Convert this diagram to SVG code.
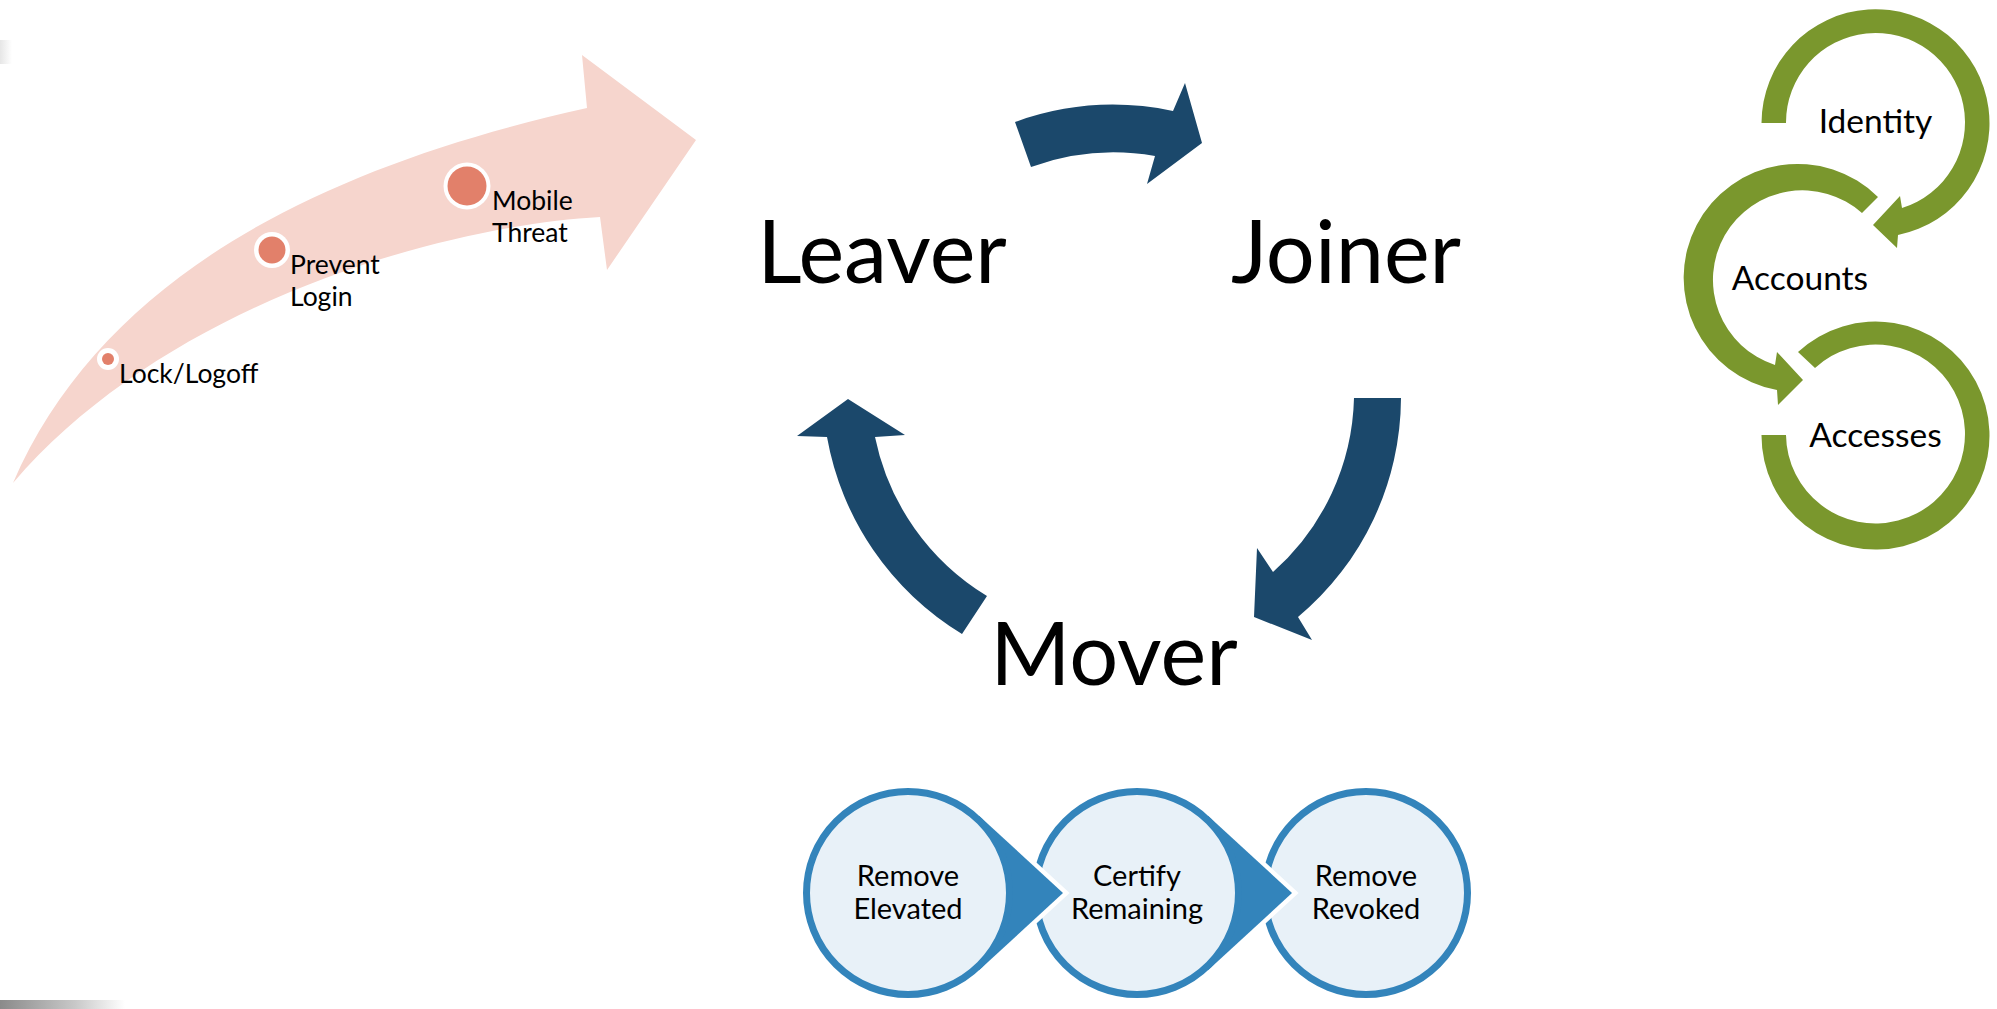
<svg xmlns="http://www.w3.org/2000/svg" width="1997" height="1009" viewBox="0 0 1997 1009">
  <defs>
    <style>
      .t { font-family: Lato, "Open Sans", "Liberation Sans", sans-serif; fill: #000; }
      .title { font-size: 86.5px; text-anchor: middle; }
      .pk { font-size: 26.5px; }
      .gr { font-size: 33.5px; text-anchor: middle; }
      .bc { font-size: 29px; text-anchor: middle; }
      .cyc { fill: #1B486B; }
      .ring { fill: #7A972D; }
      .dotw { fill: #FFFFFF; }
      .dot { fill: #E2806A; }
      .circ { fill: #E8F1F8; stroke: #3384BB; stroke-width: 7; }
      .tri { fill: #3384BB; stroke: #FFFFFF; stroke-width: 9; paint-order: stroke; stroke-linejoin: miter; }
    </style>
    <linearGradient id="shade" x1="0" y1="0" x2="1" y2="0">
      <stop offset="0" stop-color="#8A8A8A"/>
      <stop offset="0.6" stop-color="#C8C8C8"/>
      <stop offset="1" stop-color="#FFFFFF"/>
    </linearGradient>
    <linearGradient id="shadeTop" x1="0" y1="0" x2="1" y2="0">
      <stop offset="0" stop-color="#E6E6E6"/>
      <stop offset="1" stop-color="#FFFFFF"/>
    </linearGradient>
  </defs>
  <rect width="1997" height="1009" fill="#FFFFFF"/>
  <rect x="0" y="1000" width="125" height="9" fill="url(#shade)"/>
  <rect x="0" y="40" width="12" height="24" fill="url(#shadeTop)"/>

  <!-- pink escalation arrow -->
  <g id="escalation">
    <path d="M13,483 C103,275 325,166 587,108 L582,55 L696,140 L607,270 L600,217 C450,225 170,300 13,483 Z" fill="#F6D5CD"/>
    <g id="node-lock">
      <circle class="dotw" cx="108" cy="359" r="11"/>
      <circle class="dot" cx="108" cy="359" r="6"/>
      <text class="t pk" x="119" y="383">Lock/Logoff</text>
    </g>
    <g id="node-prevent">
      <circle class="dotw" cx="272" cy="250" r="18"/>
      <circle class="dot" cx="272" cy="250" r="13.5"/>
      <text class="t pk" x="290" y="274">Prevent</text>
      <text class="t pk" x="290" y="306">Login</text>
    </g>
    <g id="node-mobile">
      <circle class="dotw" cx="467" cy="186" r="23.5"/>
      <circle class="dot" cx="467" cy="186" r="19.5"/>
      <text class="t pk" x="492" y="210">Mobile</text>
      <text class="t pk" x="492" y="242">Threat</text>
    </g>
  </g>

  <!-- lifecycle -->
  <g id="cycle-connectors">
    <path class="cyc" d="M1015,122 A290,290 0 0 1 1173,111 L1185,83 L1202,143 L1147,184 L1155,156 A243,243 0 0 0 1031,167 Z"/>
    <path class="cyc" d="M1401,398 A287,287 0 0 1 1298,617 L1312,640 L1254,617 L1257,548 L1273,572 A240,240 0 0 0 1354,398 Z"/>
    <path class="cyc" d="M962,634 A290,290 0 0 1 827,437 L797,436 L848,399 L905,435 L875,437 A243,243 0 0 0 987,596 Z"/>
  </g>
  <g id="node-leaver"><text class="t title" x="882" y="283">Leaver</text></g>
  <g id="node-joiner"><text class="t title" x="1346" y="283">Joiner</text></g>
  <g id="node-mover"><text class="t title" x="1114" y="685">Mover</text></g>

  <!-- identity / accounts / accesses -->
  <g id="ring-connectors">
    <path class="ring" d="M1761.5,123 A114,114 0 1 1 1898,235 L1897,248 L1873,225 L1900,196 L1902,208 A89.5,89.5 0 1 0 1786,123 Z"/>
    <path class="ring" d="M1878,197 A114,114 0 1 0 1777,390 L1778,405 L1803,380 L1777,352 L1775,365 A89.5,89.5 0 1 1 1862,213 Z"/>
    <path class="ring" d="M1798,352 A114,114 0 1 1 1761.5,435 L1786,435 A89.5,89.5 0 1 0 1815,368 Z"/>
  </g>
  <g id="node-identity"><text class="t gr" x="1875.5" y="133">Identity</text></g>
  <g id="node-accounts"><text class="t gr" x="1800" y="290">Accounts</text></g>
  <g id="node-accesses"><text class="t gr" x="1875.5" y="447">Accesses</text></g>

  <!-- mover process -->
  <g id="node-remove-revoked">
    <circle class="circ" cx="1366" cy="893" r="101.5"/>
    <text class="t bc" x="1366" y="886">Remove</text>
    <text class="t bc" x="1366" y="919">Revoked</text>
  </g>
  <g id="process-connectors-2">
    <path class="tri" d="M1208,815.7 L1292,893 L1208,970.3 Z"/>
  </g>
  <g id="node-certify-remaining">
    <circle class="circ" cx="1137" cy="893" r="101.5"/>
    <text class="t bc" x="1137" y="886">Certify</text>
    <text class="t bc" x="1137" y="919">Remaining</text>
  </g>
  <g id="process-connectors-1">
    <path class="tri" d="M979,815.7 L1063,893 L979,970.3 Z"/>
  </g>
  <g id="node-remove-elevated">
    <circle class="circ" cx="908" cy="893" r="101.5"/>
    <text class="t bc" x="908" y="886">Remove</text>
    <text class="t bc" x="908" y="919">Elevated</text>
  </g>
</svg>
